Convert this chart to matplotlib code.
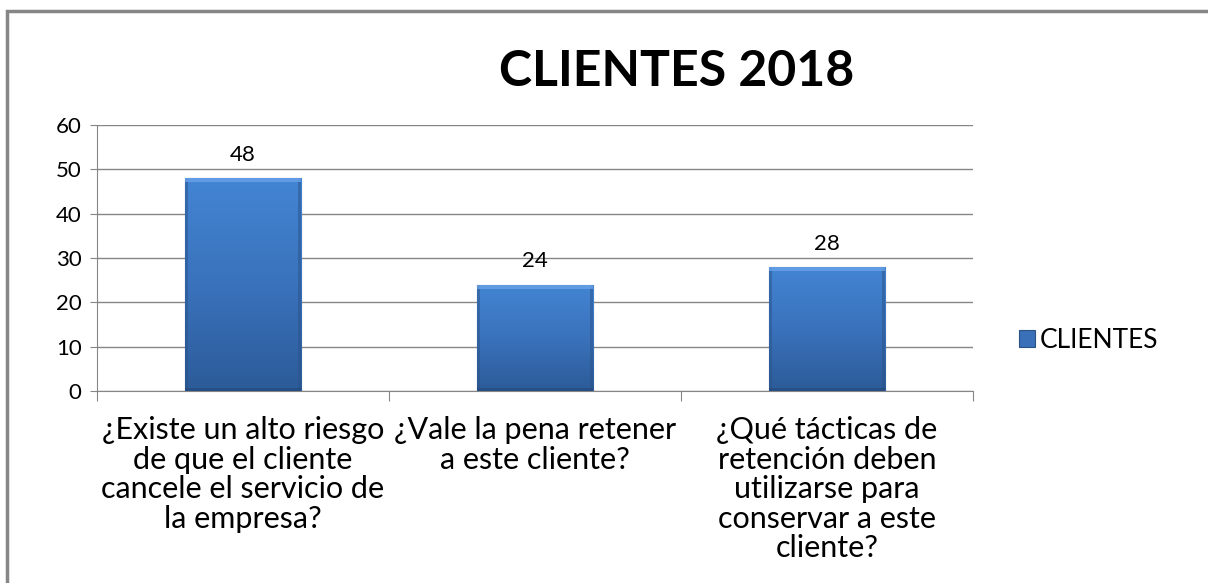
import matplotlib
matplotlib.use("Agg")
import matplotlib.pyplot as plt
import numpy as np
from matplotlib.patches import Rectangle

categories = [
    "¿Existe un alto riesgo\nde que el cliente\ncancele el servicio de\nla empresa?",
    "¿Vale la pena retener\na este cliente?",
    "¿Qué tácticas de\nretención deben\nutilizarse para\nconservar a este\ncliente?",
]
values = [48, 24, 28]
series_name = "CLIENTES"
title = "CLIENTES 2018"
yticks = [0, 10, 20, 30, 40, 50, 60]

plt.rcParams['font.family'] = ['Lato', 'DejaVu Sans']

fig = plt.figure(figsize=(12.08, 5.83), dpi=100)
ax = fig.add_axes([0.0803, 0.3293, 0.7252, 0.4563])

grey = '#868686'
x = np.arange(len(values))
bars = ax.bar(x, values, width=0.40, color='#3a70b8', edgecolor='#2a5287',
              linewidth=0.8, zorder=3)

# gradient fill for the bevelled look
grad = np.linspace(0, 1, 256).reshape(-1, 1)
cmap = matplotlib.colors.LinearSegmentedColormap.from_list(
    'bar', ['#2c5b98', '#3a72bc', '#4385d3'])
for b in bars:
    x0, w, h = b.get_x(), b.get_width(), b.get_height()
    im = ax.imshow(grad, extent=[x0, x0 + w, 0, h], origin='lower', cmap=cmap,
                   aspect='auto', zorder=3.5)
    im.set_clip_path(b)
    # darker side edges
    ax.add_patch(Rectangle((x0, 0), w * 0.03, h, color='#2a5389', alpha=0.5,
                           zorder=4, linewidth=0))
    ax.add_patch(Rectangle((x0 + w * 0.97, 0), w * 0.03, h, color='#2a5389',
                           alpha=0.5, zorder=4, linewidth=0))
    # light top bevel, dark bottom bevel
    ax.add_patch(Rectangle((x0, h - 0.9), w, 0.9, color='#68a2e8', alpha=0.8,
                           zorder=4, linewidth=0))
    ax.add_patch(Rectangle((x0, 0), w, 0.7, color='#23487a', alpha=0.6,
                           zorder=4, linewidth=0))
    ax.text(b.get_x() + w / 2, h + 3, str(int(h)), ha='center', va='bottom',
            fontsize=16, zorder=5)

ax.set_xlim(-0.5, 2.5)
ax.set_ylim(0, 60)
ax.set_yticks(yticks)
ax.tick_params(axis='y', labelsize=16, length=5, color=grey, pad=6)
ax.yaxis.grid(True, color=grey, linewidth=1, zorder=0)
ax.set_axisbelow(True)

ax.set_xticks([-0.5, 0.5, 1.5, 2.5])
ax.set_xticklabels([])
ax.tick_params(axis='x', which='major', length=7, color=grey)
ax.set_xticks(x, minor=True)
ax.set_xticklabels(categories, minor=True, fontsize=22, linespacing=1.07)
ax.tick_params(axis='x', which='minor', length=0, pad=18)

for s in ['top', 'right']:
    ax.spines[s].set_visible(False)
for s in ['left', 'bottom']:
    ax.spines[s].set_color(grey)

fig.text(0.56, 0.877, title, ha='center', va='center', fontsize=36,
         fontweight='bold')

ax.legend([bars[0]], [series_name], loc='center left',
          bbox_to_anchor=(1.025, 0.19), frameon=False, fontsize=19,
          handlelength=0.6, handleheight=0.6, handletextpad=0.2)

fig.patches.append(Rectangle((7 / 1208, -0.2), 1.5, (583 - 11) / 583 + 0.2,
                             transform=fig.transFigure, fill=False,
                             edgecolor=grey, linewidth=2.5))

fig.savefig("out.png", dpi=100)
